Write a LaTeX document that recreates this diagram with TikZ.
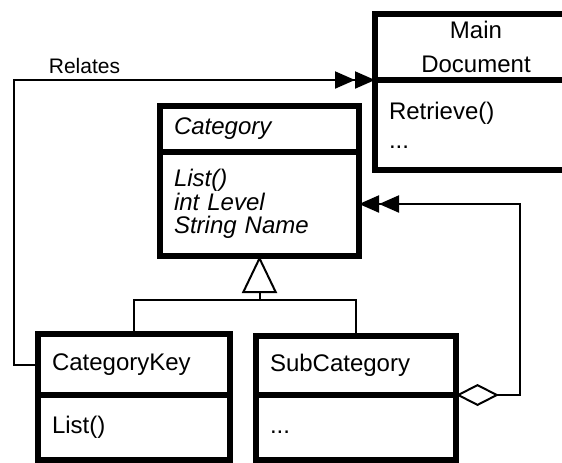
\documentclass[tikz,border=0pt]{standalone}
\usepackage{fontspec}
\setmainfont{Liberation Sans}
\usepackage{tikz}
\usetikzlibrary{arrows.meta,positioning}

\begin{document}
\begin{tikzpicture}[x=0.5pt,y=-0.5pt,node distance=0pt,line width=1pt]
		\tikzstyle{classbox}=[draw,line width=3pt,outer sep=0pt,inner xsep=7pt,inner ysep=2pt,align=left,font=\fontsize{12}{14.5}\selectfont]
		\tikzstyle{classhead}=[classbox,anchor=north west]
		\tikzstyle{twoheads}=[-{Triangle[length=10pt,width=8.5pt]Triangle[length=10pt,width=8.5pt]}]

		\useasboundingbox (0,0) rectangle (562,462);
		\clip (0,0) rectangle (562,462);

		% Main Document runs off the right edge
		\node[classhead,text width=87pt,minimum height=33pt,align=center,font=\fontsize{12}{17}\selectfont] (mainHead) at (375,14) {Main\\Document};
		\node[classbox,text width=87pt,minimum height=45pt,below=of mainHead] (mainBody) {Retrieve()\\...};

		\node[classhead,text width=85.5pt,minimum height=23pt,font=\fontsize{12}{14.5}\selectfont\itshape] (catHead) at (160,106) {Category};
		\node[classbox,text width=85.5pt,minimum height=52pt,font=\fontsize{12}{11.8}\selectfont\itshape,below=of catHead] (catBody) {List()\\int Level\\String Name};

		\node[classhead,text width=82pt,minimum height=30.5pt] (keyHead) at (38,334) {CategoryKey};
		\node[classbox,text width=82pt,minimum height=32.5pt,text height=8.6pt,text depth=2.5pt,below=of keyHead] (keyBody) {List()};
		\node[classhead,text width=86pt,minimum height=29.5pt] (subHead) at (256,336) {SubCategory};
		\node[classbox,text width=86pt,minimum height=32.5pt,text height=8.6pt,text depth=2.5pt,below=of subHead] (subBody) {...};

		\coordinate (join) at ([yshift=-22pt]catBody.south);
		\draw[-{Triangle[open,length=18.5pt,width=17.5pt]}] (join) -- (catBody.south);
		\draw (keyHead.north) |- (join) -| (subHead.north);

		\draw[twoheads] (keyHead.west) -- ++(-24,0) |- node[pos=0.54,anchor=south west,inner sep=2.5pt,font=\fontsize{10.5}{12}\selectfont] {Relates} (mainHead.south west);
		\draw[{Diamond[open,length=21.5pt,width=11pt]}-{Triangle[length=10pt,width=8.5pt]Triangle[length=10pt,width=8.5pt]}] (subHead.south east) -- ++(64,0) |- (catBody.east);
	\end{tikzpicture}
\end{document}
